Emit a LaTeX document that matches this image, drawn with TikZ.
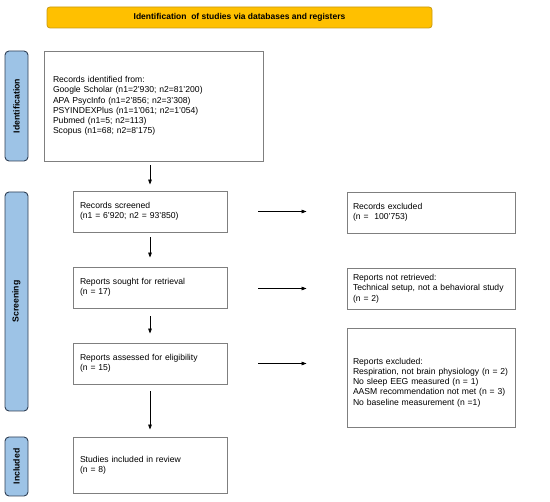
\documentclass[tikz,border=0pt]{standalone}
\usepackage{fontspec}
\setmainfont{Liberation Sans}
\usetikzlibrary{arrows.meta}
\definecolor{bannerfill}{HTML}{FFC000}
\definecolor{bannerline}{HTML}{C99A10}
\definecolor{sidefill}{HTML}{9DC3E6}
\definecolor{sideline}{HTML}{2F3F55}
\definecolor{boxline}{HTML}{7F7F7F}
\tikzset{
  box/.style={draw=boxline, line width=0.9pt, fill=white, inner xsep=0pt, inner ysep=0pt,
    align=left, font=\fontsize{8.6}{10.3}\selectfont},
  sidebar/.style={draw=sideline, fill=sidefill, line width=0.9pt, rounded corners=4pt,
    minimum width=23pt, inner sep=0pt},
  sidelabel/.style={font=\bfseries\fontsize{8.7}{10}\selectfont, rotate=90},
  arr/.style={draw=black, line width=0.8pt, -{Triangle[length=5pt,width=3.6pt]}},
}
\begin{document}
\begin{tikzpicture}[x=1pt,y=-1pt]
\useasboundingbox (0,0) rectangle (550,502);
% banner
\node[draw=bannerline, fill=bannerfill, line width=0.8pt, rounded corners=3pt,
  minimum width=385pt, minimum height=21pt, inner sep=0pt,
  font=\bfseries\fontsize{8.5}{10}\selectfont] (banner) at (239.5,17.5)
  {Identification\ \ of studies via databases and registers};
% sidebars
\node[sidebar, minimum height=110pt] (sid) at (16.5,106) {};
\node[sidelabel] (sidt) at (sid.center) {Identification};
\node[sidebar, minimum height=219pt] (sscr) at (16.5,301.5) {};
\node[sidelabel] (sscrt) at (sscr.center) {Screening};
\node[sidebar, minimum height=59pt] (sinc) at (16.5,466.5) {};
\node[sidelabel] (sinct) at (sinc.center) {Included};
% left column boxes
\node[box, minimum width=219pt, minimum height=110pt, text width=201pt] (ident) at (153.5,106)
  {Records identified from:\\
   Google Scholar (n1=2’930; n2=81’200)\\
   APA PsycInfo (n1=2’856; n2=3’308)\\
   PSYINDEXPlus (n1=1’061; n2=1’054)\\
   Pubmed (n1=5; n2=113)\\
   Scopus (n1=68; n2=8’175)};
\node[box, minimum width=154pt, minimum height=41pt, text width=140pt] (screened) at (150,211.5)
  {Records screened\\(n1 = 6’920; n2 = 93’850)};
\node[box, minimum width=154pt, minimum height=41pt, text width=140pt] (sought) at (150,287.5)
  {Reports sought for retrieval\\(n = 17)};
\node[box, minimum width=154pt, minimum height=41pt, text width=140pt] (assessed) at (150,363.5)
  {Reports assessed for eligibility\\(n = 15)};
\node[box, minimum width=154pt, minimum height=56pt, text width=140pt] (included) at (150,465)
  {Studies included in review\\(n = 8)};
% right column boxes
\node[box, minimum width=168pt, minimum height=41pt, text width=156pt] (rexcl) at (431,212.5)
  {Records excluded\\(n = \ 100’753)};
\node[box, minimum width=168pt, minimum height=41pt, text width=156pt] (notret) at (431,288.5)
  {Reports not retrieved:\\Technical setup, not a behavioral study\\(n = 2)};
\node[box, minimum width=168pt, minimum height=99pt, text width=156pt] (repexcl) at (431,377.5)
  {\rule{0pt}{16pt}Reports excluded:\\
   Respiration, not brain physiology (n = 2)\\
   No sleep EEG measured (n = 1)\\
   AASM recommendation not met (n = 3)\\
   No baseline measurement (n =1)};
% vertical arrows
\draw[arr, shorten <=4pt, shorten >=6pt] (ident.south -| screened.north) -- (screened.north);
\draw[arr, shorten <=5pt, shorten >=9pt] (screened.south) -- (sought.north);
\draw[arr, shorten <=8pt, shorten >=9pt] (sought.south) -- (assessed.north);
\draw[arr, shorten <=7pt, shorten >=7pt] (assessed.south) -- (included.north);
% horizontal arrows
\draw[arr, shorten <=31pt, shorten >=40pt] (screened.east) -- (screened.east -| rexcl.west);
\draw[arr, shorten <=31pt, shorten >=40pt] (sought.east |- notret.west) -- (notret.west);
\draw[arr, shorten <=31pt, shorten >=40pt] (assessed.east) -- (assessed.east -| repexcl.west);
\end{tikzpicture}
\end{document}
